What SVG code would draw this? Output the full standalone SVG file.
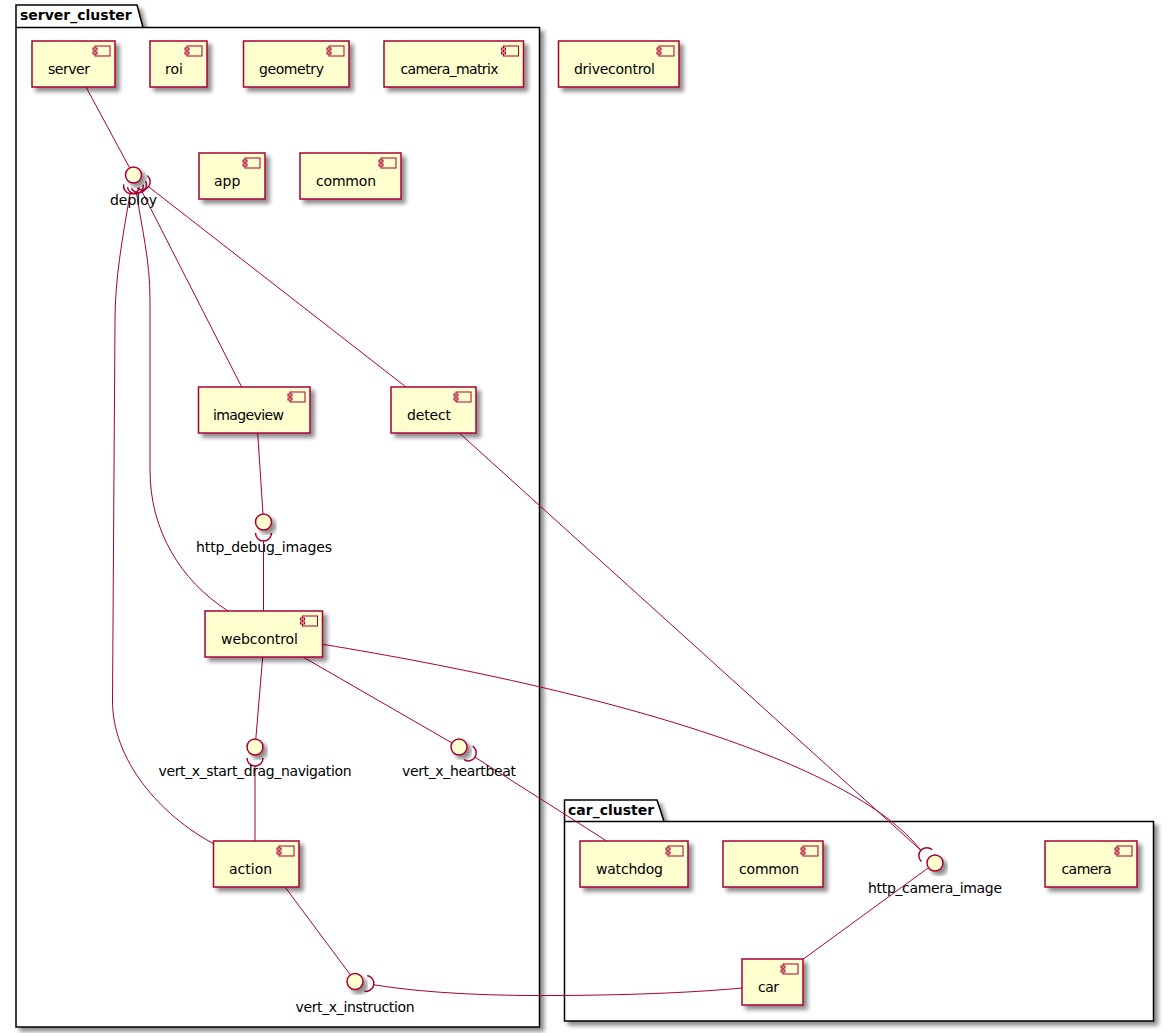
<svg xmlns="http://www.w3.org/2000/svg" xmlns:xlink="http://www.w3.org/1999/xlink" width="1169" height="1033" viewBox="0 0 1169 1033">
<style>
.pkg{fill:#FFFFFF;stroke:#000000;stroke-width:1.5;filter:url(#sh)}
.pkgt{font-family:"DejaVu Sans",sans-serif;font-size:14px;font-weight:bold;fill:#000}
.box{fill:#FEFECE;stroke:#A80036;stroke-width:1.5;filter:url(#sh)}
.ic{fill:#FEFECE;stroke:#A80036;stroke-width:1}
.lbl{font-family:"DejaVu Sans",sans-serif;font-size:14px;fill:#000}
.ilbl{font-family:"DejaVu Sans",sans-serif;font-size:14px;fill:#000;text-anchor:middle}
.ifc{fill:#FEFECE;stroke:#A80036;stroke-width:1.5;filter:url(#sh)}
.ln{fill:none;stroke:#A80036;stroke-width:1}
.sock{fill:none;stroke:#A80036;stroke-width:1.5}
</style>
<defs>
<filter id="sh" x="-20%" y="-20%" width="150%" height="150%">
<feGaussianBlur in="SourceAlpha" stdDeviation="2"/>
<feOffset dx="4" dy="4" result="o"/>
<feComponentTransfer><feFuncA type="linear" slope="0.45"/></feComponentTransfer>
<feMerge><feMergeNode/><feMergeNode in="SourceGraphic"/></feMerge>
</filter>
<g id="cicon">
<rect class="ic" x="-20" y="5" width="15" height="10"/>
<rect class="ic" x="-22" y="7" width="4" height="2"/>
<rect class="ic" x="-22" y="11" width="4" height="2"/>
</g>
<path id="socket" class="sock" d="M11,-8 A8,8 0 0 1 11,8"/>
</defs>
<rect width="1169" height="1033" fill="#FFFFFF"/>

<g id="server_cluster">
<path class="pkg" d="M16,5 L137,5 L143,27.5 L539.5,27.5 L539.5,1027 L16,1027 Z"/>
<path d="M16,27.5 L143,27.5" stroke="#000" stroke-width="1.5" fill="none"/>
<text class="pkgt" x="20" y="20">server_cluster</text>
</g>
<g id="car_cluster">
<path class="pkg" d="M564.5,800 L657,800 L664,821.5 L1153.5,821.5 L1153.5,1021 L564.5,1021 Z"/>
<path d="M564.5,821.5 L664,821.5" stroke="#000" stroke-width="1.5" fill="none"/>
<text class="pkgt" x="568" y="814.5">car_cluster</text>
</g>

<g id="connectors">
<path class="ln" d="M86,87 L129.7,168"/>
<path class="ln" d="M130.1,193.7 C122,240 115,280 115,320 L112.5,700 C112,760 160,815 214,844"/>
<path class="ln" d="M136.6,193.7 C142,230 150,260 150,300 L150,470 C150,530 180,580 228,611"/>
<path class="ln" d="M142.2,191.9 L241.7,387"/>
<path class="ln" d="M148.5,186.7 L406,387"/>
<path class="ln" d="M257.7,433 L263,514"/>
<path class="ln" d="M263.5,541 L263.5,611"/>
<path class="ln" d="M262.7,657 L255.8,739"/>
<path class="ln" d="M255,766 L255,841"/>
<path class="ln" d="M303,657 L452.1,743"/>
<path class="ln" d="M475,757.2 L606.7,841"/>
<path class="ln" d="M285,887 L350.5,975"/>
<path class="ln" d="M373.7,984.8 C430,994 500,996 560,995.5 C640,995 700,992 742,988"/>
<path class="ln" d="M322.7,644.3 C600,690 850,760 920.9,850.3"/>
<path class="ln" d="M459.3,433 L920.9,850.3"/>
<path class="ln" d="M803,959.3 L928.5,867.7"/>
<use xlink:href="#socket" href="#socket" transform="translate(133.5,175) rotate(100.4)"/>
<use xlink:href="#socket" href="#socket" transform="translate(133.5,175) rotate(80.6)"/>
<use xlink:href="#socket" href="#socket" transform="translate(133.5,175) rotate(62.7)"/>
<use xlink:href="#socket" href="#socket" transform="translate(133.5,175) rotate(38)"/>
<use xlink:href="#socket" href="#socket" transform="translate(263.5,522) rotate(90)"/>
<use xlink:href="#socket" href="#socket" transform="translate(255,747) rotate(90)"/>
<use xlink:href="#socket" href="#socket" transform="translate(459,747) rotate(32.5)"/>
<use xlink:href="#socket" href="#socket" transform="translate(355,981.5) rotate(10)"/>
<use xlink:href="#socket" href="#socket" transform="translate(935,863) rotate(-138)"/>
</g>

<g id="deploy"><circle class="ifc" cx="133.5" cy="175" r="8"/><text class="ilbl" x="133.5" y="205">deploy</text></g>
<g id="http_debug_images"><circle class="ifc" cx="263.5" cy="522" r="8"/><text class="ilbl" x="264" y="552" textLength="136">http_debug_images</text></g>
<g id="vert_x_start_drag_navigation"><circle class="ifc" cx="255" cy="747" r="8"/><text class="ilbl" x="255" y="776" textLength="193">vert_x_start_drag_navigation</text></g>
<g id="vert_x_heartbeat"><circle class="ifc" cx="459" cy="747" r="8"/><text class="ilbl" x="459" y="776" textLength="114">vert_x_heartbeat</text></g>
<g id="vert_x_instruction"><circle class="ifc" cx="355" cy="981.5" r="8"/><text class="ilbl" x="355" y="1011.5" textLength="119">vert_x_instruction</text></g>
<g id="http_camera_image"><circle class="ifc" cx="935" cy="863" r="8"/><text class="ilbl" x="935" y="893" textLength="134">http_camera_image</text></g>

<g id="server"><rect class="box" x="32" y="41" width="83" height="46"/><use href="#cicon" xlink:href="#cicon" transform="translate(115,41)"/><text class="lbl" x="48" y="74" textLength="42">server</text></g>
<g id="roi"><rect class="box" x="150" y="41" width="57" height="46"/><use href="#cicon" xlink:href="#cicon" transform="translate(207,41)"/><text class="lbl" x="165" y="74">roi</text></g>
<g id="geometry"><rect class="box" x="243.5" y="41" width="105.5" height="46"/><use href="#cicon" xlink:href="#cicon" transform="translate(349,41)"/><text class="lbl" x="259" y="74" textLength="65">geometry</text></g>
<g id="camera_matrix"><rect class="box" x="384" y="41" width="139.5" height="46"/><use href="#cicon" xlink:href="#cicon" transform="translate(523.5,41)"/><text class="lbl" x="400.5" y="74" textLength="98">camera_matrix</text></g>
<g id="drivecontrol"><rect class="box" x="558.5" y="41" width="120.5" height="46"/><use href="#cicon" xlink:href="#cicon" transform="translate(679,41)"/><text class="lbl" x="574" y="74" textLength="81">drivecontrol</text></g>
<g id="app"><rect class="box" x="199" y="153" width="66" height="46"/><use href="#cicon" xlink:href="#cicon" transform="translate(265,153)"/><text class="lbl" x="214" y="186">app</text></g>
<g id="common_server"><rect class="box" x="300" y="153" width="101" height="46"/><use href="#cicon" xlink:href="#cicon" transform="translate(401,153)"/><text class="lbl" x="316" y="186" textLength="60">common</text></g>
<g id="imageview"><rect class="box" x="198.5" y="387" width="111.5" height="46"/><use href="#cicon" xlink:href="#cicon" transform="translate(310,387)"/><text class="lbl" x="213" y="420" textLength="71">imageview</text></g>
<g id="detect"><rect class="box" x="391" y="387" width="85" height="46"/><use href="#cicon" xlink:href="#cicon" transform="translate(476,387)"/><text class="lbl" x="407" y="420" textLength="44">detect</text></g>
<g id="webcontrol"><rect class="box" x="205" y="611" width="117.5" height="46"/><use href="#cicon" xlink:href="#cicon" transform="translate(322.5,611)"/><text class="lbl" x="221" y="644" textLength="77">webcontrol</text></g>
<g id="action"><rect class="box" x="213.5" y="841" width="85.5" height="46"/><use href="#cicon" xlink:href="#cicon" transform="translate(299,841)"/><text class="lbl" x="229" y="874">action</text></g>
<g id="watchdog"><rect class="box" x="580" y="841" width="108" height="46"/><use href="#cicon" xlink:href="#cicon" transform="translate(688,841)"/><text class="lbl" x="596" y="874" textLength="67">watchdog</text></g>
<g id="common_car"><rect class="box" x="723" y="841" width="100" height="46"/><use href="#cicon" xlink:href="#cicon" transform="translate(823,841)"/><text class="lbl" x="739" y="874" textLength="60">common</text></g>
<g id="camera"><rect class="box" x="1045" y="841" width="92" height="46"/><use href="#cicon" xlink:href="#cicon" transform="translate(1137,841)"/><text class="lbl" x="1061.5" y="874" textLength="50">camera</text></g>
<g id="car"><rect class="box" x="742" y="959" width="61" height="46"/><use href="#cicon" xlink:href="#cicon" transform="translate(803,959)"/><text class="lbl" x="758" y="992" textLength="21">car</text></g>
</svg>
